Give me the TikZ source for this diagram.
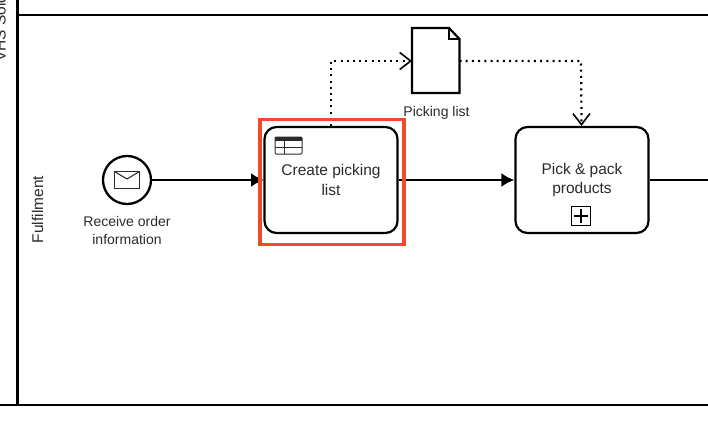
\documentclass[tikz,border=0pt]{standalone}
\usepackage{fontspec}
\setmainfont{Liberation Sans}
\usetikzlibrary{arrows.meta, positioning, calc}
\definecolor{colLine}{HTML}{000000}
\definecolor{colText}{HTML}{2A2A2A}
\definecolor{colMark}{HTML}{F0492C}
\tikzset{
	taskbox/.style={draw=colLine, line width=2.2pt, rounded corners=12pt, minimum width=133pt, minimum height=106pt, align=center, font=\fontsize{15.5}{19.5}\selectfont, text=colText},
	evtlabel/.style={font=\fontsize{14}{18}\selectfont, text=colText, align=center},
	seqflow/.style={line width=2.4pt, -{Latex[length=13pt,width=14pt]}},
	dataflow/.style={line width=2.2pt, dash pattern=on 2pt off 4.2pt, -{Straight Barb[length=11pt,width=17pt,line width=1.6pt]}},
	laneline/.style={line width=2.3pt, colLine}
}
\begin{document}
\begin{tikzpicture}[x=1pt,y=-1pt]
		\useasboundingbox (0,0) rectangle (708,420);
		% pool and lane frame
		\coordinate (laneT) at (17.5,0);
		\coordinate (laneB) at (17.5,405);
		\coordinate (laneTL) at (17.5,15);
		\coordinate (laneTR) at (708,15);
		\coordinate (poolL) at (0,405);
		\coordinate (poolR) at (708,405);
		\draw[laneline] (laneT) -- (laneB);
		\draw[laneline] (laneTL) -- (laneTR);
		\draw[laneline] (poolL) -- (poolR);
		\node[rotate=90, anchor=south west, inner sep=0pt, font=\fontsize{15.5}{17}\selectfont, text=colText] (poolname) at (6,62) {VHS Sold};
		\node[rotate=90, font=\fontsize{15.5}{17}\selectfont, text=colText] (lanename) at (37.5,209.5) {Fulfilment};
		% start event
		\node[draw=colLine, circle, line width=2.3pt, minimum size=48pt, inner sep=0pt] (recvEvt) at (127,180) {};
		\draw[line width=1.1pt, colText] (114.5,171.5) rectangle (139.5,188.5);
		\draw[line width=1.1pt, colText] (114.5,171.5) -- (127,179) -- (139.5,171.5);
		\node[evtlabel, below=7.5pt of recvEvt] (recvLbl) {Receive order\\information};
		% tasks
		\node[taskbox] (createTask) at (331,180) {Create picking\\list};
		\node[taskbox] (packTask) at (582,180) {Pick \& pack\\products};
		% table marker
		\draw[line width=1pt, colText, rounded corners=1pt] (275,137) rectangle (302,154);
		\fill[colText] (275,137) rectangle (302,141);
		\draw[line width=0.8pt, colText] (275,147.5) -- (302,147.5) (284,141) -- (284,154);
		% subprocess marker
		\node[draw=colLine, line width=1.1pt, minimum size=19.5pt, inner sep=0pt] (subMark) at (581,216) {};
		\draw[line width=2pt] (574,216) -- (588,216) (581,209) -- (581,223);
		% document
		\draw[line width=2.2pt, fill=white] (412,28) -- (449,28) -- (459.5,39) -- (459.5,93) -- (412,93) -- cycle;
		\draw[line width=1.1pt] (449,28) -- (449,39) -- (459.5,39);
		\coordinate (docW) at (412,61);
		\coordinate (docE) at (459.5,61);
		\node[evtlabel] (docLbl) at (436.5,113) {Picking list};
		% flows
		\coordinate (recvEnd) at (264,180);
		\draw[seqflow] (recvEvt) -- (recvEnd);
		\draw[seqflow] (createTask) -- (packTask);
		\coordinate (outEnd) at (708,180);
		\draw[line width=2.4pt] (packTask) -- (outEnd);
		\coordinate (upA) at (331,61);
		\coordinate (upB) at (581,61);
		\draw[dataflow] (createTask) -- (upA) -- (docW);
		\draw[dataflow] (docE) -- (upB) -- (packTask);
		% highlight
		\draw[colMark, line width=3.6pt] (260,119.5) rectangle (404,244.5);
\end{tikzpicture}
\end{document}
